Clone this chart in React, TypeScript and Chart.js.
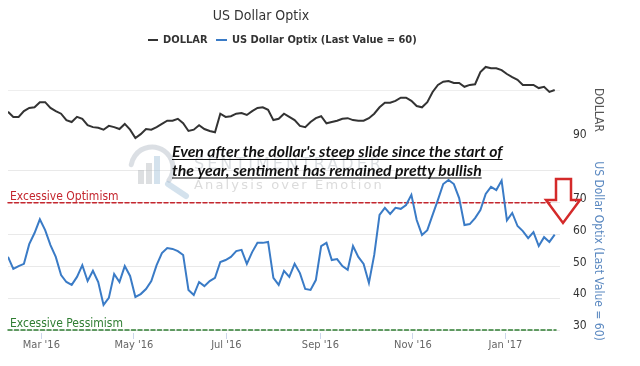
import React, { useEffect, useRef } from 'react';
import { Chart, registerables } from 'chart.js';

Chart.register(...registerables);

const TITLE = 'US Dollar Optix';
const SERIES_DOLLAR = 'DOLLAR';
const SERIES_OPTIX = 'US Dollar Optix (Last Value = 60)';
const AXIS_DOLLAR = 'DOLLAR';
const AXIS_OPTIX = 'US Dollar Optix (Last Value = 60)';

// one point every 3.5 days starting Feb 8 2016
const DAY_STEP = 3.5;

const DOLLAR = [
  96.6, 95.8, 95.8, 96.7, 97.2, 97.3, 98.1, 98.1, 97.2, 96.7,
  96.3, 95.3, 95.0, 95.8, 95.5, 94.5, 94.2, 94.1, 93.8, 94.4,
  94.2, 93.9, 94.7, 93.8, 92.5, 93.1, 93.9, 93.8, 94.2, 94.7,
  95.2, 95.2, 95.5, 94.8, 93.6, 93.8, 94.5, 93.9, 93.6, 93.4,
  96.3, 95.8, 95.9, 96.3, 96.4, 96.1, 96.7, 97.2, 97.3, 96.9,
  95.3, 95.5, 96.3, 95.8, 95.3, 94.4, 94.2, 95.0, 95.6, 95.9,
  94.8, 95.0, 95.2, 95.5, 95.6, 95.3, 95.2, 95.2, 95.6, 96.3,
  97.3, 98.0, 98.0, 98.3, 98.8, 98.8, 98.3, 97.5, 97.3, 98.1,
  99.7, 100.8, 101.3, 101.4, 101.1, 101.1, 100.5, 100.8, 100.9, 102.8,
  103.6, 103.4, 103.4, 103.1, 102.5, 102.0, 101.6, 100.8, 100.8, 100.8,
  100.3, 100.5, 99.7, 100.0,
];

const OPTIX = [
  53.0, 49.2, 50.1, 50.8, 57.0, 60.5, 64.8, 61.4, 56.7, 53.0,
  47.3, 45.1, 44.2, 46.7, 50.4, 45.4, 48.6, 45.1, 37.9, 40.1,
  47.6, 45.1, 50.1, 47.0, 40.4, 41.3, 42.9, 45.4, 50.4, 54.2,
  55.8, 55.5, 54.8, 53.6, 42.6, 41.0, 45.1, 43.8, 45.4, 46.4,
  51.4, 52.0, 53.0, 54.8, 55.2, 50.8, 54.5, 57.4, 57.4, 57.7,
  46.4, 44.2, 48.6, 46.7, 50.8, 47.9, 42.9, 42.6, 45.7, 56.4,
  57.4, 52.0, 52.3, 50.1, 48.9, 56.4, 53.0, 50.8, 44.8, 53.6,
  66.2, 68.4, 66.5, 68.4, 68.1, 69.3, 72.5, 64.6, 59.9, 61.4,
  66.2, 70.9, 75.9, 77.2, 75.9, 71.5, 63.0, 63.3, 65.2, 67.7,
  72.8, 75.0, 74.0, 77.0, 64.5, 66.8, 62.7, 61.1, 58.9, 60.8,
  56.4, 59.2, 57.7, 60.0,
];

const MONTH_TICK_DAYS = [22, 83, 144, 206, 267, 328];
const MONTH_TICK_LABELS = ["Mar '16", "May '16", "Jul '16", "Sep '16", "Nov '16", "Jan '17"];
const OPTIX_TICKS = [30, 40, 50, 60, 70, 80, 90];
const OPTIX_HIDDEN_LABELS = [80];
const DOLLAR_GRID = [100];
const OPTIMISM_LEVEL = 70;
const PESSIMISM_LEVEL = 30;
const OPTIMISM_TEXT = 'Excessive Optimism';
const PESSIMISM_TEXT = 'Excessive Pessimism';
const NOTE_LINES = [
  "Even after the dollar's steep slide since the start of",
  'the year, sentiment has remained pretty bullish',
];
const WATERMARK_1 = 'SENTIMENTRADER';
const WATERMARK_2 = 'Analysis over Emotion';

const FONT = "'DejaVu Sans Condensed', 'DejaVu Sans', sans-serif";
const NOTE_FONT = "Lato, 'Open Sans', sans-serif";
const COLOR_DOLLAR = '#333333';
const COLOR_OPTIX = '#3a7bc6';

const decorPlugin = {
  id: 'decor',
  beforeDatasetsDraw(chart: any) {
    const { ctx, chartArea: a, scales } = chart;
    const yO = scales.yO;
    ctx.save();

    // watermark logo
    ctx.lineCap = 'round';
    ctx.strokeStyle = 'rgba(175,185,195,0.45)';
    ctx.lineWidth = 5;
    ctx.beginPath();
    ctx.arc(152, 168, 21, 0.2 * Math.PI, 1.05 * Math.PI, true);
    ctx.stroke();
    ctx.strokeStyle = 'rgba(160,190,215,0.45)';
    ctx.lineWidth = 6;
    ctx.beginPath();
    ctx.moveTo(168, 184);
    ctx.lineTo(186, 196);
    ctx.stroke();
    ctx.fillStyle = 'rgba(170,175,180,0.4)';
    ctx.fillRect(138, 170, 6, 14);
    ctx.fillRect(146, 163, 6, 21);
    ctx.fillStyle = 'rgba(160,190,215,0.45)';
    ctx.fillRect(154, 156, 6, 28);

    const fitSpacing = (text: string, font: string, width: number) => {
      ctx.font = font;
      (ctx as any).letterSpacing = '0px';
      const w = ctx.measureText(text).width;
      return Math.max(0, (width - w) / text.length);
    };
    ctx.textAlign = 'left';
    ctx.textBaseline = 'alphabetic';
    const f1 = "16px 'DejaVu Sans', sans-serif";
    const s1 = fitSpacing(WATERMARK_1, f1, 190);
    ctx.font = f1;
    (ctx as any).letterSpacing = s1 + 'px';
    ctx.fillStyle = 'rgba(190,195,200,0.55)';
    ctx.fillText(WATERMARK_1, 194, 169);
    const f2 = "13px 'DejaVu Sans', sans-serif";
    const s2 = fitSpacing(WATERMARK_2, f2, 190);
    ctx.font = f2;
    (ctx as any).letterSpacing = s2 + 'px';
    ctx.fillStyle = 'rgba(195,195,195,0.6)';
    ctx.fillText(WATERMARK_2, 194, 189);
    (ctx as any).letterSpacing = '0px';

    // threshold levels
    const level = (value: number, color: string, text: string, right: number) => {
      const y = yO.getPixelForValue(value);
      ctx.strokeStyle = color;
      ctx.lineWidth = 1.5;
      ctx.setLineDash([4, 2.5]);
      ctx.beginPath();
      ctx.moveTo(a.left, y);
      ctx.lineTo(right, y);
      ctx.stroke();
      ctx.setLineDash([]);
      ctx.font = `12px ${FONT}`;
      ctx.fillStyle = color;
      ctx.textAlign = 'left';
      ctx.textBaseline = 'alphabetic';
      ctx.fillText(text, a.left + 2, y - 3);
    };
    level(OPTIMISM_LEVEL, '#c4262e', OPTIMISM_TEXT, a.right - 10);
    level(PESSIMISM_LEVEL, '#2f7d32', PESSIMISM_TEXT, a.right - 4);
    ctx.restore();
  },
  afterDraw(chart: any) {
    const { ctx } = chart;
    ctx.save();

    // title
    ctx.font = `14px ${FONT}`;
    ctx.fillStyle = '#333333';
    ctx.textAlign = 'center';
    ctx.textBaseline = 'middle';
    ctx.fillText(TITLE, 261, 16);

    // legend
    ctx.lineWidth = 2;
    ctx.strokeStyle = COLOR_DOLLAR;
    ctx.beginPath();
    ctx.moveTo(148, 40);
    ctx.lineTo(158, 40);
    ctx.stroke();
    ctx.strokeStyle = COLOR_OPTIX;
    ctx.beginPath();
    ctx.moveTo(216, 40);
    ctx.lineTo(227, 40);
    ctx.stroke();
    ctx.font = `bold 11px ${FONT}`;
    ctx.fillStyle = '#333333';
    ctx.textAlign = 'left';
    ctx.fillText(SERIES_DOLLAR, 163, 40);
    ctx.fillText(SERIES_OPTIX, 232, 40);

    // note text
    ctx.fillStyle = '#111111';
    ctx.strokeStyle = '#111111';
    ctx.textBaseline = 'alphabetic';
    ctx.font = `italic bold 16px ${NOTE_FONT}`;
    const w0 = ctx.measureText(NOTE_LINES[0]).width;
    const size = (16 * 331) / w0;
    ctx.font = `italic bold ${size}px ${NOTE_FONT}`;
    const baselines = [157, 175.5];
    NOTE_LINES.forEach((line, i) => {
      const w = ctx.measureText(line).width;
      ctx.fillText(line, 172, baselines[i]);
      ctx.lineWidth = 1.2;
      ctx.beginPath();
      ctx.moveTo(172, baselines[i] + 2.5);
      ctx.lineTo(172 + w, baselines[i] + 2.5);
      ctx.stroke();
    });

    // arrow annotation
    ctx.lineWidth = 2.5;
    ctx.strokeStyle = '#d42a2a';
    ctx.fillStyle = 'rgba(255,255,255,0.0)';
    ctx.lineJoin = 'miter';
    ctx.beginPath();
    ctx.moveTo(556, 179);
    ctx.lineTo(571, 179);
    ctx.lineTo(571, 200);
    ctx.lineTo(580, 200);
    ctx.lineTo(563, 223);
    ctx.lineTo(546, 200);
    ctx.lineTo(556, 200);
    ctx.closePath();
    ctx.stroke();

    // axis titles
    const rot = (text: string, x: number, y: number, color: string) => {
      ctx.save();
      ctx.translate(x, y);
      ctx.rotate(Math.PI / 2);
      ctx.font = `12px ${FONT}`;
      ctx.fillStyle = color;
      ctx.textAlign = 'center';
      ctx.textBaseline = 'middle';
      ctx.fillText(text, 0, 0);
      ctx.restore();
    };
    rot(AXIS_DOLLAR, 598, 110, '#555555');
    rot(AXIS_OPTIX, 598, 251, '#5a88c0');
    ctx.restore();
  },
};

export default function App() {
  const ref = useRef<HTMLCanvasElement | null>(null);

  useEffect(() => {
    if (!ref.current) return;
    const chart = new Chart(ref.current, {
      type: 'line',
      data: {
        datasets: [
          {
            label: SERIES_DOLLAR,
            data: DOLLAR.map((v, i) => ({ x: i * DAY_STEP, y: v })),
            yAxisID: 'yD',
            borderColor: COLOR_DOLLAR,
            borderWidth: 2,
            pointRadius: 0,
            tension: 0,
            fill: false,
          },
          {
            label: SERIES_OPTIX,
            data: OPTIX.map((v, i) => ({ x: i * DAY_STEP, y: v })),
            yAxisID: 'yO',
            borderColor: COLOR_OPTIX,
            borderWidth: 2,
            pointRadius: 0,
            tension: 0,
            fill: false,
          },
        ],
      },
      options: {
        responsive: false,
        animation: false,
        events: [],
        layout: { padding: { left: 8, top: 60, right: 0, bottom: 0 } },
        plugins: {
          legend: { display: false },
          title: { display: false },
          tooltip: { enabled: false },
        },
        scales: {
          x: {
            type: 'linear',
            min: 0,
            max: 364,
            afterBuildTicks: (s: any) => {
              s.ticks = MONTH_TICK_DAYS.map((v) => ({ value: v }));
            },
            afterFit: (s: any) => {
              s.height = 33;
            },
            ticks: {
              autoSkip: false,
              maxRotation: 0,
              padding: 0,
              color: '#666666',
              font: { size: 11, family: FONT },
              callback: (v: any) => {
                const k = MONTH_TICK_DAYS.indexOf(Number(v));
                return k >= 0 ? MONTH_TICK_LABELS[k] : '';
              },
            },
            grid: { drawOnChartArea: false, drawTicks: true, tickLength: 6, color: '#ccd6eb' },
            border: { display: false },
          },
          yD: {
            type: 'linear',
            position: 'left',
            min: 62.03,
            max: 104.69,
            afterBuildTicks: (s: any) => {
              s.ticks = DOLLAR_GRID.map((v) => ({ value: v }));
            },
            afterFit: (s: any) => {
              s.width = 0;
            },
            ticks: { display: false },
            grid: { color: '#eeeeee', drawTicks: false },
            border: { display: false },
          },
          yO: {
            type: 'linear',
            position: 'right',
            min: 29.06,
            max: 114.9,
            afterBuildTicks: (s: any) => {
              s.ticks = OPTIX_TICKS.map((v) => ({ value: v }));
            },
            afterFit: (s: any) => {
              s.width = 80;
            },
            ticks: {
              padding: 13,
              labelOffset: -4,
              color: '#333333',
              font: { size: 12, family: FONT },
              callback: (v: any) => (OPTIX_HIDDEN_LABELS.includes(Number(v)) ? '' : String(v)),
            },
            grid: {
              drawTicks: false,
              color: (c: any) => (c.tick && c.tick.value === 90 ? 'rgba(0,0,0,0)' : '#e9e9e9'),
            },
            border: { display: false },
          },
        },
      },
      plugins: [decorPlugin],
    } as any);
    return () => chart.destroy();
  }, []);

  return (
    <div style={{ position: 'fixed', left: 0, top: 0, width: 640, height: 366, background: '#fff' }}>
      <canvas ref={ref} width={640} height={366} style={{ display: 'block' }} />
    </div>
  );
}
